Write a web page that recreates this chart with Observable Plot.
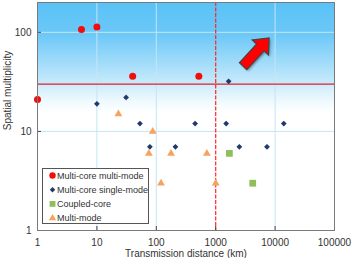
<!DOCTYPE html>
<html>
<head>
<meta charset="utf-8">
<script src="https://cdn.jsdelivr.net/npm/d3@7"></script>
<script src="https://cdn.jsdelivr.net/npm/@observablehq/plot@0.6"></script>
<style>
  html, body { margin: 0; padding: 0; background: #fff; }
  #chart { width: 352px; height: 258px; overflow: hidden; }
  #chart svg { display: block; }
</style>
</head>
<body>
<div id="chart"></div>
<script>
// Transmission distance (km) vs spatial multiplicity, by fibre type
const seriesNames = ["Multi-core multi-mode", "Multi-core single-mode", "Coupled-core", "Multi-mode"];
const seriesColors = ["#f20d0d", "#1f3a6b", "#8fbf5a", "#f6a35e"];
const seriesSymbols = ["circle", "diamond2", "square", "triangle"];

const mcmmDistance     = [1, 5.5, 10, 40, 520];
const mcmmMultiplicity = [21, 107, 113, 36, 36];

const mcsmDistance     = [10, 31, 53, 78, 210, 450, 1500, 1650, 2500, 7300, 14000];
const mcsmMultiplicity = [19, 22, 12, 7, 7, 12, 12, 32, 7, 7, 12];

const ccDistance       = [1700, 4200];
const ccMultiplicity   = [6, 3];

const mmDistance       = [23, 87, 75, 177, 120, 710, 1000];
const mmMultiplicity   = [15, 10, 6, 6, 3, 6, 3];

const xTicks = [1, 10, 100, 1000, 10000, 100000];
const yTicks = [1, 10, 100];
const xGrid = [10, 100, 10000];
const yGrid = [10, 100];

// Reference thresholds and the "target" direction arrow (data units)
const multiplicityThreshold = 30;
const distanceThreshold = 1000;
const arrowTail = [2950, 45];
const arrowTip = [8100, 87];

const rows = (xs, ys) => xs.map((x, i) => ({x, y: ys[i]}));

const plot = Plot.plot({
  width: 352,
  height: 258,
  marginLeft: 37,
  marginRight: 18,
  marginTop: 2,
  marginBottom: 28,
  style: {fontFamily: "'Liberation Sans', Arial, sans-serif", fontSize: "10px", color: "#333", background: "#fff"},
  x: {type: "log", domain: [1, 100000], axis: null},
  y: {type: "log", domain: [1, 200], axis: null},
  marks: [
    Plot.frame({fill: "url(#plotBg)", stroke: "none"}),
    Plot.gridX(xGrid, {stroke: "#c4e5f7", strokeOpacity: 1}),
    Plot.gridY(yGrid, {stroke: "#c4e5f7", strokeOpacity: 1}),
    Plot.ruleX([distanceThreshold], {stroke: "#ff2626", strokeWidth: 1.2, strokeDasharray: "4,1.5"}),
    Plot.ruleY([multiplicityThreshold], {stroke: "#e0202a", strokeWidth: 1.3}),
    // inward tick marks
    Plot.ruleX(xTicks, {stroke: "#444", insetTop: 224}),
    Plot.ruleY(yTicks, {stroke: "#444", insetRight: 293}),
    Plot.axisX(xTicks, {tickSize: 0, tickPadding: 8, tickFormat: d3.format("d"), fontSize: 10, fill: "#333", label: null}),
    Plot.axisY(yTicks, {tickSize: 0, tickPadding: 6, tickFormat: d3.format("d"), fontSize: 10, fill: "#333", label: null}),
    Plot.dot(rows(mcsmDistance, mcsmMultiplicity), {x: "x", y: "y", symbol: seriesSymbols[1], r: 2.6, fill: seriesColors[1]}),
    Plot.dot(rows(mmDistance, mmMultiplicity), {x: "x", y: "y", symbol: seriesSymbols[3], r: 2.9, fill: seriesColors[3]}),
    Plot.dot(rows(ccDistance, ccMultiplicity), {x: "x", y: "y", symbol: seriesSymbols[2], r: 3.8, fill: seriesColors[2]}),
    Plot.dot(rows(mcmmDistance, mcmmMultiplicity), {x: "x", y: "y", symbol: seriesSymbols[0], r: 3.5, fill: seriesColors[0]}),
    Plot.frame({stroke: "#7a7a7a", strokeWidth: 1}),
    Plot.text(["Spatial multiplicity"], {text: d => d, frameAnchor: "left", textAnchor: "middle", rotate: -90, dx: -30, dy: -26, fontSize: 10, fill: "#333"}),
    Plot.text(["Transmission distance (km)"], {text: d => d, frameAnchor: "bottom", textAnchor: "middle", lineAnchor: "middle", dy: 23, fontSize: 10, fill: "#333"})
  ]
});

document.getElementById("chart").appendChild(plot);

const svg = d3.select(plot);
const sx = plot.scale("x"), sy = plot.scale("y");
const X = d3.scaleLog().domain(sx.domain).range(sx.range);
const Y = d3.scaleLog().domain(sy.domain).range(sy.range);

// Background gradient of the plotting area: sky blue at the top fading to white
const defs = svg.insert("defs", ":first-child");
const grad = defs.append("linearGradient")
  .attr("id", "plotBg").attr("x1", 0).attr("y1", 0).attr("x2", 0).attr("y2", 1);
[[0, "#5ac2f7"], [0.14, "#6cc8f7"], [0.34, "#c2e8fb"], [0.43, "#eef9fe"], [0.48, "#ffffff"], [1, "#ffffff"]]
  .forEach(([o, c]) => grad.append("stop").attr("offset", o).attr("stop-color", c));
const blur = defs.append("filter").attr("id", "arrowShadow").attr("x", "-30%").attr("y", "-30%").attr("width", "160%").attr("height", "160%");
blur.append("feGaussianBlur").attr("stdDeviation", 1.2);

// Block arrow pointing toward longer reach and higher multiplicity
(function drawArrow() {
  const tx = X(arrowTail[0]), ty = Y(arrowTail[1]);
  const px = X(arrowTip[0]), py = Y(arrowTip[1]);
  const L = Math.hypot(px - tx, py - ty);
  const ux = (px - tx) / L, uy = (py - ty) / L;
  const nx = -uy, ny = ux;
  const shaft = 5, head = 11, headLen = 13;
  const hx = px - ux * headLen, hy = py - uy * headLen;
  const pts = [
    [tx + nx * shaft, ty + ny * shaft],
    [hx + nx * shaft, hy + ny * shaft],
    [hx + nx * head, hy + ny * head],
    [px, py],
    [hx - nx * head, hy - ny * head],
    [hx - nx * shaft, hy - ny * shaft],
    [tx - nx * shaft, ty - ny * shaft]
  ];
  const d = "M" + pts.map(p => p.join(",")).join("L") + "Z";
  const g = svg.append("g");
  g.append("path").attr("d", d).attr("transform", "translate(1.5,1.8)")
    .attr("fill", "rgba(0,0,0,0.35)").attr("filter", "url(#arrowShadow)");
  g.append("path").attr("d", d).attr("fill", "#ff0000")
    .attr("stroke", "#4a4040").attr("stroke-width", 1.2).attr("stroke-linejoin", "miter");
})();

// Legend box inside the plotting area
(function drawLegend() {
  const g = svg.append("g").attr("transform", "translate(42,168)").attr("text-anchor", "start");
  g.append("rect").attr("x", 0.5).attr("y", 0.5).attr("width", 106).attr("height", 55)
    .attr("fill", "#fff").attr("stroke", "#555").attr("stroke-width", 1);
  const sizes = {circle: Math.PI * 3.2 * 3.2, diamond2: Math.PI * 2.5 * 2.5, square: Math.PI * 3.3 * 3.3, triangle: Math.PI * 2.7 * 2.7};
  const symbolTypes = {circle: d3.symbolCircle, diamond2: d3.symbolDiamond2, square: d3.symbolSquare, triangle: d3.symbolTriangle};
  seriesNames.forEach((name, i) => {
    const cy = 7.5 + i * 14.2;
    g.append("path")
      .attr("d", d3.symbol(symbolTypes[seriesSymbols[i]], sizes[seriesSymbols[i]])())
      .attr("transform", `translate(10.5,${cy})`)
      .attr("fill", seriesColors[i]);
    g.append("text").attr("x", 15).attr("y", cy).attr("dy", "0.35em")
      .attr("text-anchor", "start")
      .attr("font-size", 9).attr("fill", "#333")
      .attr("font-family", "'Liberation Sans', Arial, sans-serif")
      .text(name);
  });
})();
</script>
</body>
</html>
